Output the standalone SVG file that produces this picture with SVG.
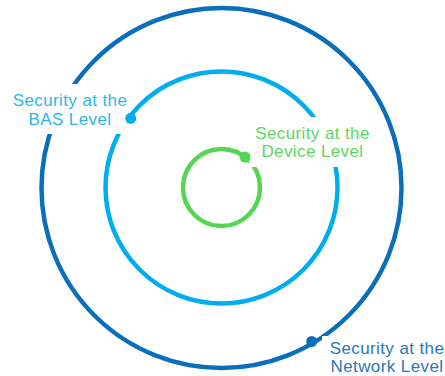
<svg xmlns="http://www.w3.org/2000/svg" width="445" height="376" viewBox="0 0 445 376">
<style>
.ring{fill:none;stroke-width:4.5}
.lbl{font-family:"Liberation Sans",Arial,sans-serif;font-size:17px;letter-spacing:0.4px;text-anchor:middle}
.bg{fill:#ffffff}
</style>
<rect width="445" height="376" fill="#ffffff"/>
<g id="network">
<circle class="ring" cx="221.5" cy="188" r="180" stroke="#0a6fbb"/>
</g>
<g id="bas">
<circle class="ring" cx="221.5" cy="187.5" r="116" stroke="#00aeef"/>
</g>
<g id="device">
<circle class="ring" cx="221.5" cy="187.5" r="38.5" stroke="#55d653"/>
</g>
<g id="labels">
<rect class="bg" x="0" y="84" width="128" height="50"/>
<rect class="bg" x="249" y="117" width="127" height="50"/>
<rect class="bg" x="322" y="336" width="123" height="40"/>
<text class="lbl" x="70" y="106" fill="#2fb5ec">Security at the</text>
<text class="lbl" x="70" y="124.5" fill="#2fb5ec">BAS Level</text>
<text class="lbl" x="312.5" y="138.5" fill="#5dd65f">Security at the</text>
<text class="lbl" x="312.5" y="157" fill="#5dd65f">Device Level</text>
<text class="lbl" x="387" y="353.5" fill="#2a78b5">Security at the</text>
<text class="lbl" x="387" y="372" fill="#2a78b5">Network Level</text>
</g>
<g id="connectors">
<circle cx="130.7" cy="118.3" r="5.5" fill="#00aeef"/>
<circle cx="245" cy="157" r="5.5" fill="#55d653"/>
<circle cx="311.7" cy="341.5" r="5.5" fill="#0a6fbb"/>
</g>
</svg>
